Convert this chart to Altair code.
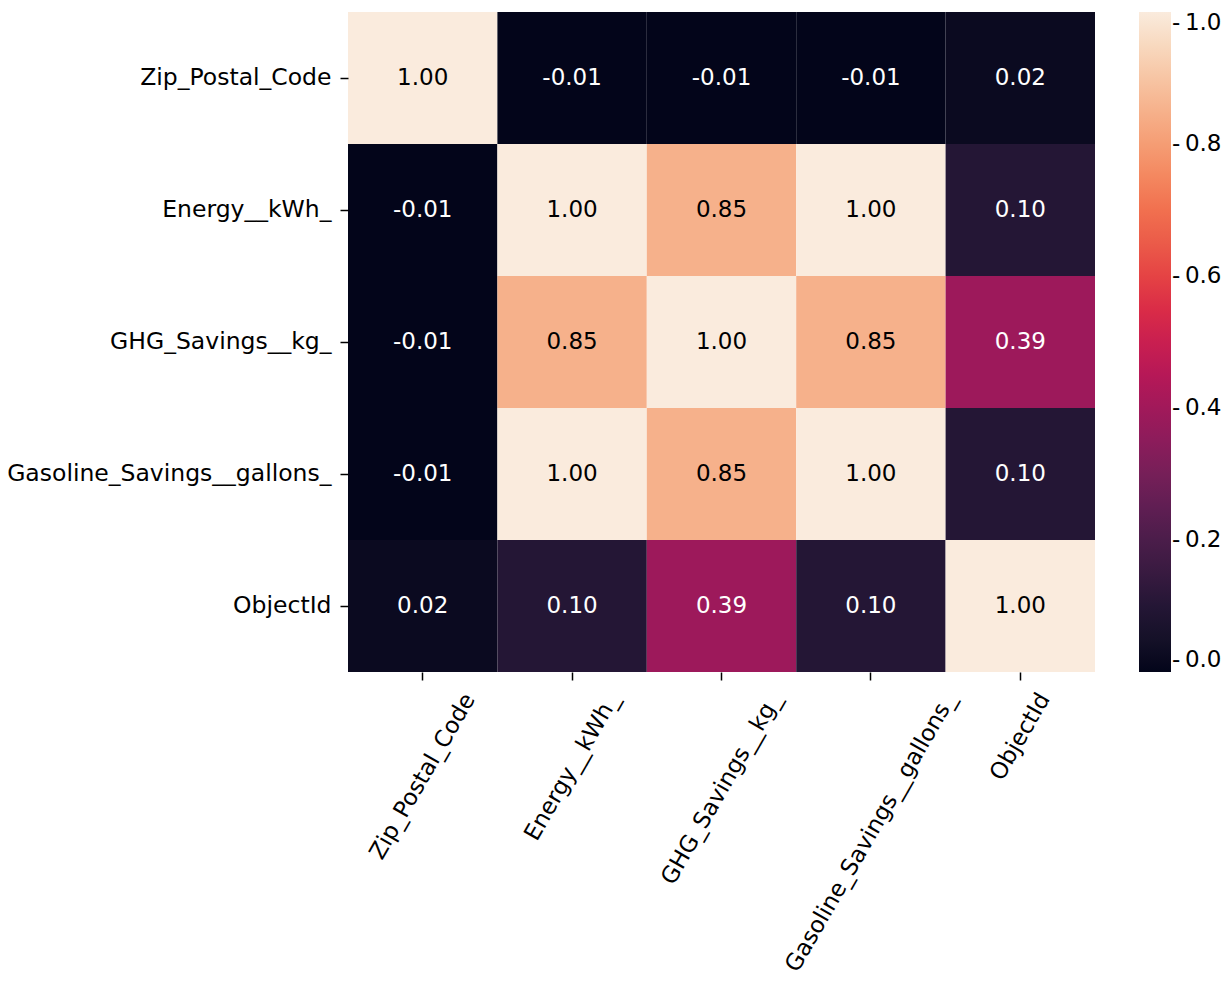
import altair as alt
import pandas as pd

names = ["Zip_Postal_Code", "Energy__kWh_", "GHG_Savings__kg_",
         "Gasoline_Savings__gallons_", "ObjectId"]
row_zip = [1.00, -0.01, -0.01, -0.01, 0.02]
row_energy = [-0.01, 1.00, 0.85, 1.00, 0.10]
row_ghg = [-0.01, 0.85, 1.00, 0.85, 0.39]
row_gas = [-0.01, 1.00, 0.85, 1.00, 0.10]
row_obj = [0.02, 0.10, 0.39, 0.10, 1.00]
matrix = [row_zip, row_energy, row_ghg, row_gas, row_obj]

records = []
for i, rname in enumerate(names):
    for j, cname in enumerate(names):
        v = matrix[i][j]
        records.append({"row": rname, "col": cname, "value": v,
                        "label": f"{v:.2f}"})
df = pd.DataFrame(records)

rocket_domain = [0, 1/7, 2/7, 3/7, 4/7, 5/7, 6/7, 1]
rocket_range = ["#03051a", "#35193e", "#701f57", "#ad1759",
                "#e13342", "#f37651", "#f6b48f", "#faebdd"]

FONT = "DejaVu Sans"
FS_CELL = 23
FS_Y = 23.5
FS_X = 23
FS_LEG = 23
TICK = 8

# DejaVu Sans advance widths (units per 2048 em) for laying out rotated labels
adv = {"Z": 1403, "P": 1235, "C": 1430, "E": 1294, "G": 1577, "H": 1540,
       "S": 1300, "O": 1612, "I": 604, "W": 2025, "k": 1186, "h": 1298,
       "j": 569, "c": 1126, "v": 1212, "n": 1298, "g": 1300, "r": 842,
       "y": 1212, "b": 1300, "i": 569, "l": 569, "e": 1260, "o": 1253,
       "s": 1067, "t": 803, "a": 1255, "d": 1300, "p": 1300, "_": 1024}


def text_len(s, fs):
    return sum(adv.get(ch, 1200) for ch in s) / 2048 * fs


# matplotlib-like: rotated label centred under its tick, top of its box at a fixed gap
conds = []
for nm in names:
    L = text_len(nm, FS_X)
    box_h = L * 0.866 + FS_X * 0.8 * 0.5
    pad = 18 + box_h / 2 - TICK
    conds.append({"test": f"datum.value === '{nm}'", "value": round(pad, 1)})
label_pad_x = {"condition": conds, "value": 60}

base = alt.Chart(df).encode(
    x=alt.X("col:N", sort=names, title=None,
            axis=alt.Axis(labelAngle=300, labelAlign="center", labelBaseline="middle",
                          labelFontSize=FS_X, labelFont=FONT, labelColor="black",
                          domain=False, tickSize=TICK, tickColor="black", tickWidth=1.5,
                          labelPadding=label_pad_x, labelLimit=1000)),
    y=alt.Y("row:N", sort=names, title=None,
            axis=alt.Axis(labelFontSize=FS_Y, labelFont=FONT, labelColor="black",
                          domain=False, tickSize=TICK, tickColor="black", tickWidth=1.5,
                          labelPadding=9, labelLimit=1000)),
)

rects = base.mark_rect().encode(
    color=alt.Color("value:Q",
                    scale=alt.Scale(domain=rocket_domain, range=rocket_range,
                                    clamp=True, type="linear"),
                    legend=alt.Legend(title=None, orient="right", offset=44,
                                      gradientLength=660, gradientThickness=32,
                                      gradientStrokeWidth=0,
                                      values=[0, 0.2, 0.4, 0.6, 0.8, 1.0],
                                      format=".1f", labelFontSize=FS_LEG,
                                      labelExpr="'-\u2009' + datum.label",
                                      labelFont=FONT, labelColor="black",
                                      labelOffset=1, labelOverlap=False,
                                      direction="vertical"))
)

texts = base.mark_text(fontSize=FS_CELL, font=FONT).encode(
    text="label:N",
    color=alt.condition(alt.datum.value < 0.5, alt.value("white"), alt.value("black")),
)

chart = alt.layer(rects, texts).properties(
    width=747, height=660,
    autosize=alt.AutoSizeParams(type="none"),
    padding={"left": 340, "top": 4, "right": 129, "bottom": 306},
).configure_view(stroke=None).configure_scale(bandPaddingInner=0, bandPaddingOuter=0)

chart.save("out.html", embed_options={"renderer": "svg", "actions": False})
